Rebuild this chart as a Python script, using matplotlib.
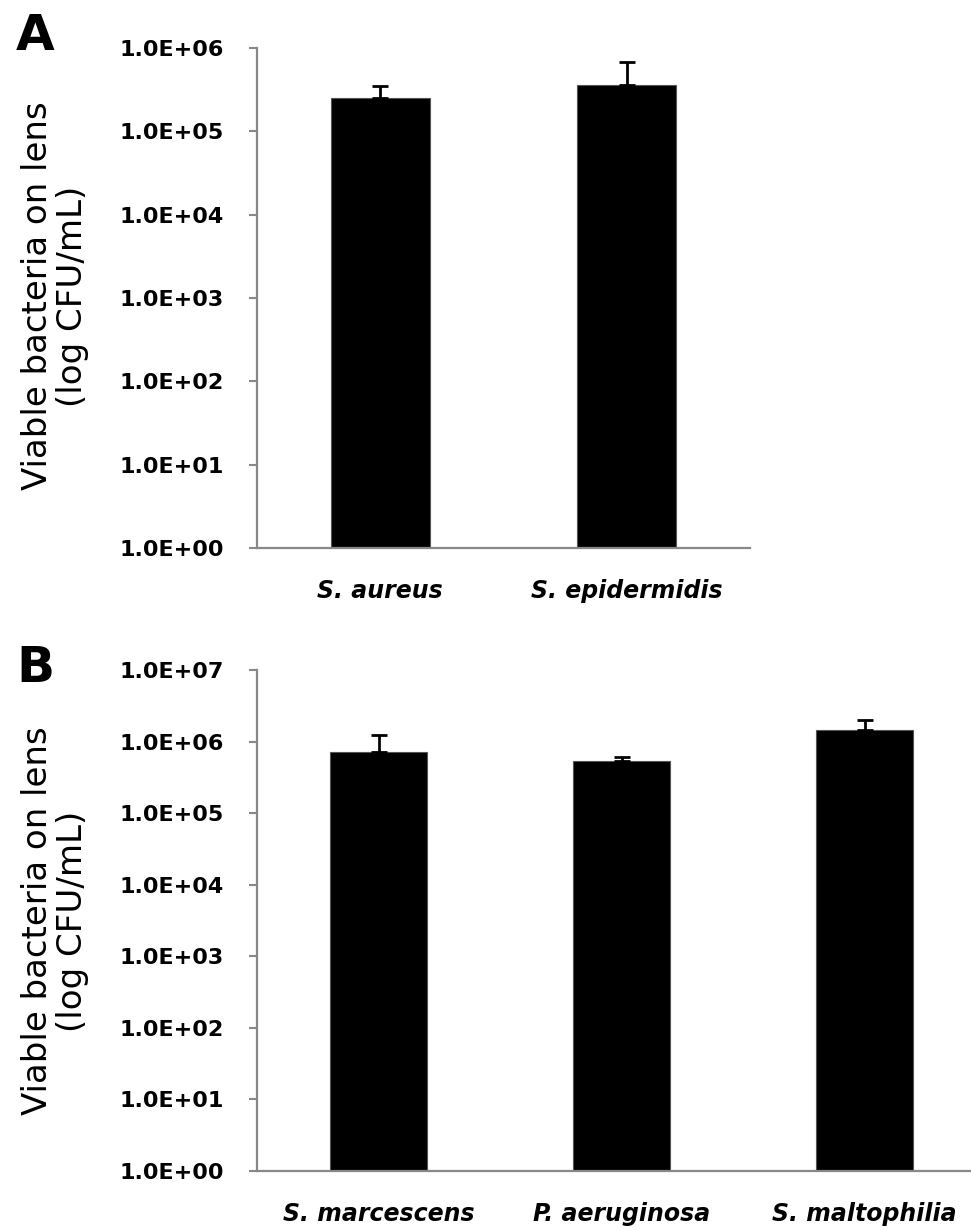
import numpy as np
import matplotlib
matplotlib.use("Agg")
import matplotlib.pyplot as plt
from matplotlib.ticker import FuncFormatter, NullLocator

# panel A
cats_a = ["S. aureus", "S. epidermidis"]
vals_a = [2.5e5, 3.6e5]
err_a = [1.0e5, 3.1e5]

# panel B
cats_b = ["S. marcescens", "P. aeruginosa", "S. maltophilia"]
vals_b = [7.2e5, 5.4e5, 1.44e6]
err_b = [5.3e5, 0.7e5, 0.56e6]

ylabel = "Viable bacteria on lens\n(log CFU/mL)"
tick_font = ["DejaVu Sans"]
label_font = ["DejaVu Sans"]

W, H = 971, 1230
fig = plt.figure(figsize=(W / 100, H / 100), dpi=100)

def px(l, b, w, h):
    return [l / W, 1 - (b) / H, w / W, h / H]

def draw_panel(ax, cats, vals, errs, ytop):
    x = np.arange(len(cats)) + 0.5
    ax.bar(x, vals, width=0.4, color="black", edgecolor="#555555", linewidth=0.8, zorder=2)
    ax.errorbar(x, vals, yerr=[np.zeros(len(errs)), errs], fmt="none",
                ecolor="black", elinewidth=2, capsize=6, capthick=2, zorder=3)
    ax.set_yscale("log")
    ax.set_ylim(1, ytop)
    ax.set_xlim(0, len(cats))
    ax.set_yticks([10.0 ** k for k in range(0, int(np.log10(ytop)) + 1)])
    ax.yaxis.set_minor_locator(NullLocator())
    ax.yaxis.set_major_formatter(FuncFormatter(lambda v, p: "%.1E" % v))
    ax.set_xticks(x)
    ax.set_xticklabels(cats, fontstyle="italic", fontweight="bold", fontsize=17, family=tick_font)
    for lab in ax.get_yticklabels():
        lab.set_fontweight("bold")
        lab.set_fontsize(16)
        lab.set_family(tick_font)
    ax.tick_params(axis="x", length=0, pad=22)
    ax.tick_params(axis="y", length=6, width=1.5, color="#888888", pad=18)
    for s in ["top", "right"]:
        ax.spines[s].set_visible(False)
    for s in ["left", "bottom"]:
        ax.spines[s].set_color("#888888")
        ax.spines[s].set_linewidth(1.6)

# A: 1e0 at y=548, 1e6 at y=48
ax_a = fig.add_axes(px(257, 548, 493, 500))
draw_panel(ax_a, cats_a, vals_a, err_a, 1e6)

# B: 1e0 at y=1171, 1e7 at y=670 ; extends past right edge
ax_b = fig.add_axes(px(257, 1171, 729, 501))
draw_panel(ax_b, cats_b, vals_b, err_b, 1e7)

for yc in [296, 921]:
    fig.text(55 / W, 1 - yc / H, ylabel, rotation=90, ha="center", va="center",
             fontsize=24.5, family=label_font, linespacing=1.05, color="black")

fig.text(16 / W, 1 - 36 / H, "A", fontsize=36, fontweight="bold", va="center", ha="left", family=tick_font)
fig.text(16 / W, 1 - 668 / H, "B", fontsize=36, fontweight="bold", va="center", ha="left", family=tick_font)

fig.savefig("out.png", dpi=100)
